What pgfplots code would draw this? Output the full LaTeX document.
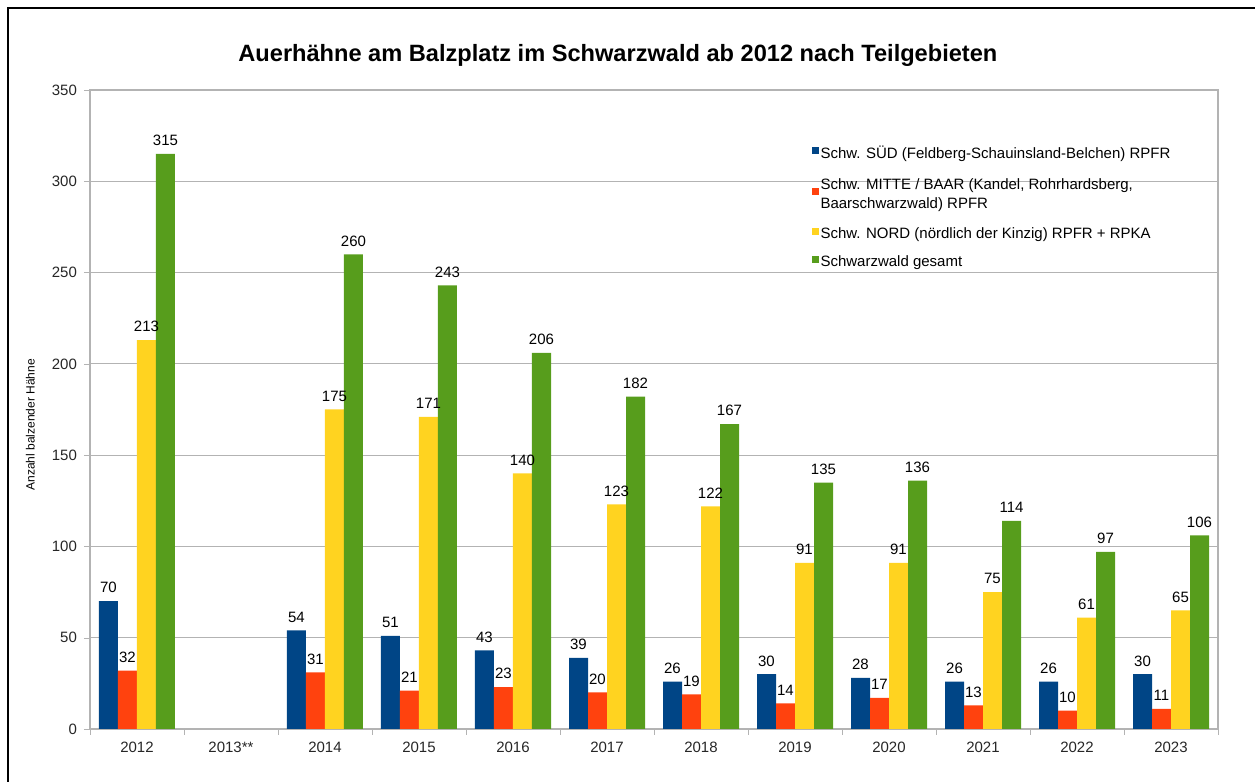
\documentclass[border=0pt]{standalone}
\usepackage{fontspec}
\setmainfont{Liberation Sans}
\usepackage{pgfplots}
\pgfplotsset{compat=1.18}
\definecolor{cSud}{HTML}{004586}
\definecolor{cMitte}{HTML}{FF420E}
\definecolor{cNord}{HTML}{FFD320}
\definecolor{cGes}{HTML}{579D1C}
\definecolor{gridgray}{HTML}{B3B3B3}
\begin{document}
\begin{tikzpicture}
\useasboundingbox (-45pt,-26.5pt) rectangle (582.5pt,364.5pt);
\draw[line width=1pt] (-41pt,-26.5pt) -- (-41pt,360.5pt) -- (582.5pt,360.5pt);
\begin{axis}[
  at={(0,0)}, anchor=south west,
  scale only axis, width=564pt, height=319.5pt,
  ybar=0pt, bar width=9.5pt,
  xmin=-0.5, xmax=11.5, ymin=0, ymax=350,
  xtick={0,...,11},
  xticklabels={2012,2013**,2014,2015,2016,2017,2018,2019,2020,2021,2022,2023},
  major x tick style={draw=none},
  minor xtick={-0.5,0.5,...,11.5},
  minor x tick style={draw=gridgray},
  ytick={0,50,...,350},
  tick pos=left,
  tick align=outside,
  major tick length=3pt, minor tick length=3pt,
  ymajorgrids, grid style={gridgray, line width=0.5pt},
  axis line style={gridgray, line width=0.6pt},
  y tick style={draw=gridgray},
  /pgf/number format/assume math mode=true,
  ticklabel style={font=\fontsize{7.5}{9}\selectfont, text=black!85},
  nodes near coords,
  every node near coord/.append style={font=\fontsize{7.5}{9}\selectfont, text=black, yshift=0.5pt},
  title={Auerhähne am Balzplatz im Schwarzwald ab 2012 nach Teilgebieten},
  title style={font=\fontsize{11.8}{14}\selectfont\bfseries, at={(axis description cs:0.468,1.036)}, anchor=center},
  ylabel={Anzahl balzender Hähne},
  ylabel style={font=\fontsize{6}{7}\selectfont, at={(axis description cs:-0.053,0.476)}, anchor=center},
  legend cell align=left,
  legend style={at={(0.634,0.922)}, anchor=north west, draw=none, fill=none,
    font=\fontsize{7.5}{9.5}\selectfont, row sep=5pt,
    nodes={inner sep=1pt, text depth=}},
  legend image code/.code={\fill[#1,draw=none] (0pt,0pt) rectangle (3.5pt,3.5pt);},
]
\addplot[fill=cSud, draw=none] coordinates {(0,70) (2,54) (3,51) (4,43) (5,39) (6,26) (7,30) (8,28) (9,26) (10,26) (11,30)};
\addlegendentry{Schw. SÜD (Feldberg-Schauinsland-Belchen) RPFR}
\addplot[fill=cMitte, draw=none] coordinates {(0,32) (2,31) (3,21) (4,23) (5,20) (6,19) (7,14) (8,17) (9,13) (10,10) (11,11)};
\addlegendentry{\begin{tabular}[t]{@{}l@{}}Schw. MITTE / BAAR (Kandel, Rohrhardsberg,\\ Baarschwarzwald) RPFR\end{tabular}}
\addplot[fill=cNord, draw=none] coordinates {(0,213) (2,175) (3,171) (4,140) (5,123) (6,122) (7,91) (8,91) (9,75) (10,61) (11,65)};
\addlegendentry{Schw. NORD (nördlich der Kinzig) RPFR + RPKA}
\addplot[fill=cGes, draw=none] coordinates {(0,315) (2,260) (3,243) (4,206) (5,182) (6,167) (7,135) (8,136) (9,114) (10,97) (11,106)};
\addlegendentry{Schwarzwald gesamt}
\end{axis}
\end{tikzpicture}
\end{document}
